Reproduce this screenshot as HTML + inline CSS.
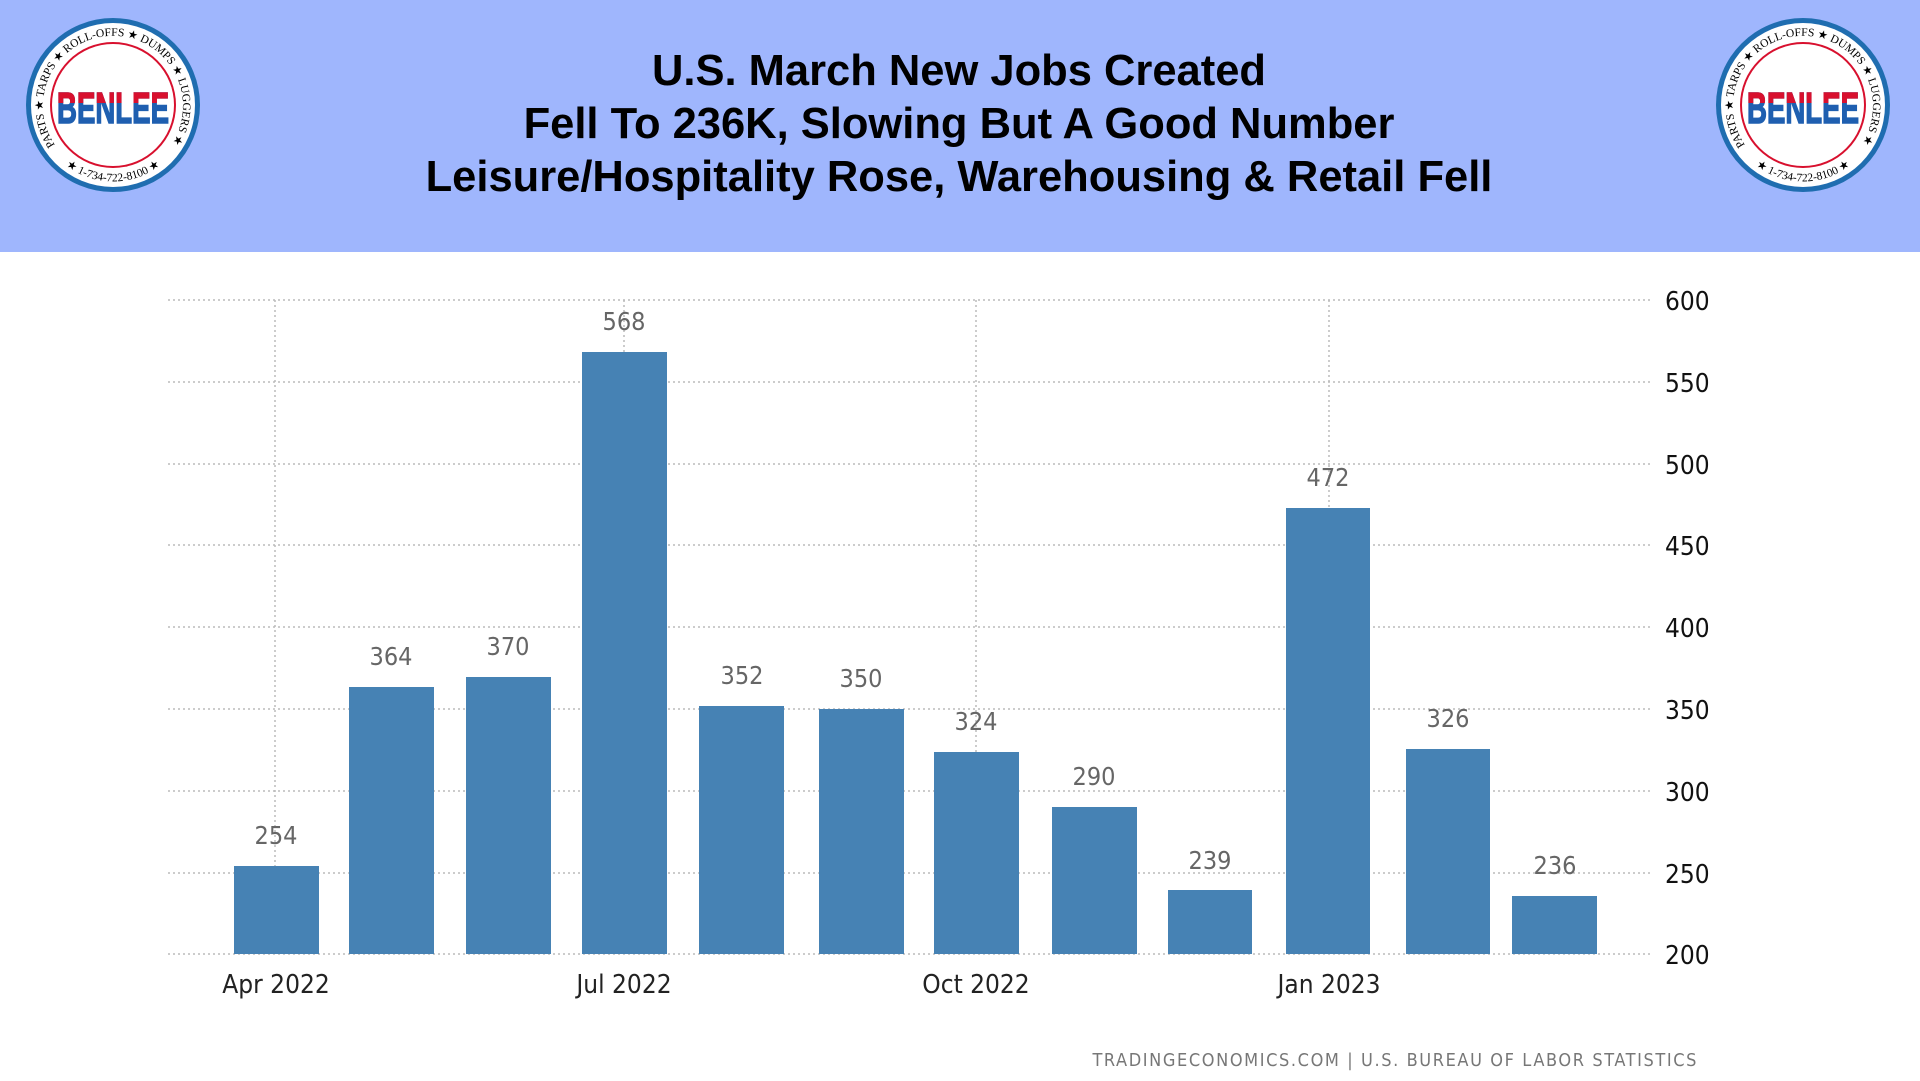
<!DOCTYPE html>
<html><head><meta charset="utf-8"><style>
html,body{margin:0;padding:0;background:#fff}
svg{display:block}
</style></head><body>
<svg width="1920" height="1081" xmlns="http://www.w3.org/2000/svg">
<rect x="0" y="0" width="1920" height="252" fill="#9fb6fd"/>
<g font-family="Liberation Sans, Arial, sans-serif" font-weight="bold" font-size="43.5" fill="#000" text-anchor="middle">
<text x="959" y="85">U.S. March New Jobs Created</text>
<text x="959" y="138">Fell To 236K, Slowing But A Good Number</text>
<text x="959" y="191">Leisure/Hospitality Rose, Warehousing &amp; Retail Fell</text>
</g>
<defs>
<clipPath id="top"><rect x="-60" y="-40" width="120" height="38"/></clipPath>
<g id="logo">
<circle cx="0" cy="0" r="87" fill="#1f6db0"/>
<circle cx="0" cy="0" r="82" fill="#fff"/>
<circle cx="0" cy="0" r="63" fill="#d8102e"/>
<circle cx="0" cy="0" r="61" fill="#fff"/>
<text x="0" y="18" font-family="Liberation Sans, sans-serif" font-weight="bold" font-size="44" text-anchor="middle" fill="#1f5fb0" stroke="#1f5fb0" stroke-width="1.5" textLength="112" lengthAdjust="spacingAndGlyphs">BENLEE</text>
<text x="0" y="18" font-family="Liberation Sans, sans-serif" font-weight="bold" font-size="44" text-anchor="middle" fill="#d8102e" stroke="#d8102e" stroke-width="1.5" textLength="112" lengthAdjust="spacingAndGlyphs" clip-path="url(#top)">BENLEE</text>
<path id="arc" d="M -58 40 A 70 70 0 1 1 58 40" fill="none"/>
<text font-family="Liberation Serif, serif" font-size="11.5" fill="#000"><textPath href="#arc">PARTS ★ TARPS ★ ROLL-OFFS ★ DUMPS ★ LUGGERS ★ BENLEE.COM</textPath></text>
<path id="arc2" d="M -66 40 A 78 78 0 0 0 66 40" fill="none"/>
<text font-family="Liberation Serif, serif" font-size="11.5" fill="#000" text-anchor="middle"><textPath href="#arc2" startOffset="50%">★ 1-734-722-8100 ★</textPath></text>
</g>
</defs>
<use href="#logo" x="113" y="105"/>
<use href="#logo" x="1803" y="105"/>
<g stroke="#bbb" stroke-width="1.5" stroke-dasharray="2,3">
<line x1="168" x2="1653" y1="300" y2="300"/>
<line x1="168" x2="1653" y1="382" y2="382"/>
<line x1="168" x2="1653" y1="464" y2="464"/>
<line x1="168" x2="1653" y1="545" y2="545"/>
<line x1="168" x2="1653" y1="627" y2="627"/>
<line x1="168" x2="1653" y1="709" y2="709"/>
<line x1="168" x2="1653" y1="791" y2="791"/>
<line x1="168" x2="1653" y1="873" y2="873"/>
<line x1="168" x2="1653" y1="954" y2="954"/>
<line x1="275" x2="275" y1="300" y2="954"/>
<line x1="624" x2="624" y1="300" y2="954"/>
<line x1="976" x2="976" y1="300" y2="954"/>
<line x1="1329" x2="1329" y1="300" y2="954"/>
</g>
<g fill="#4682b4">
<rect x="234" y="866" width="85" height="88"/>
<rect x="349" y="687" width="85" height="267"/>
<rect x="466" y="677" width="85" height="277"/>
<rect x="582" y="352" width="85" height="602"/>
<rect x="699" y="706" width="85" height="248"/>
<rect x="819" y="709" width="85" height="245"/>
<rect x="934" y="752" width="85" height="202"/>
<rect x="1052" y="807" width="85" height="147"/>
<rect x="1168" y="890" width="84" height="64"/>
<rect x="1286" y="508" width="84" height="446"/>
<rect x="1406" y="749" width="84" height="205"/>
<rect x="1512" y="896" width="85" height="58"/>
</g>
<g font-family="DejaVu Sans Condensed, DejaVu Sans, sans-serif" font-size="25" fill="#666" text-anchor="middle">
<text x="276" y="844">254</text>
<text x="391" y="665">364</text>
<text x="508" y="655">370</text>
<text x="624" y="330">568</text>
<text x="742" y="684">352</text>
<text x="861" y="687">350</text>
<text x="976" y="730">324</text>
<text x="1094" y="785">290</text>
<text x="1210" y="869">239</text>
<text x="1328" y="486">472</text>
<text x="1448" y="727">326</text>
<text x="1555" y="874">236</text>
</g>
<g font-family="DejaVu Sans Condensed, DejaVu Sans, sans-serif" font-size="26" fill="#111">
<text x="1665" y="310">600</text>
<text x="1665" y="392">550</text>
<text x="1665" y="474">500</text>
<text x="1665" y="555">450</text>
<text x="1665" y="637">400</text>
<text x="1665" y="719">350</text>
<text x="1665" y="801">300</text>
<text x="1665" y="883">250</text>
<text x="1665" y="964">200</text>
</g>
<g font-family="DejaVu Sans Condensed, DejaVu Sans, sans-serif" font-size="26" fill="#222" text-anchor="middle">
<text x="276" y="993">Apr 2022</text>
<text x="624" y="993">Jul 2022</text>
<text x="976" y="993">Oct 2022</text>
<text x="1329" y="993">Jan 2023</text>
</g>
<text x="1698" y="1066" text-anchor="end" font-family="DejaVu Sans Condensed, DejaVu Sans, sans-serif" font-size="18" fill="#777" letter-spacing="1.6">TRADINGECONOMICS.COM  |  U.S. BUREAU OF LABOR STATISTICS</text>
</svg>
</body></html>
